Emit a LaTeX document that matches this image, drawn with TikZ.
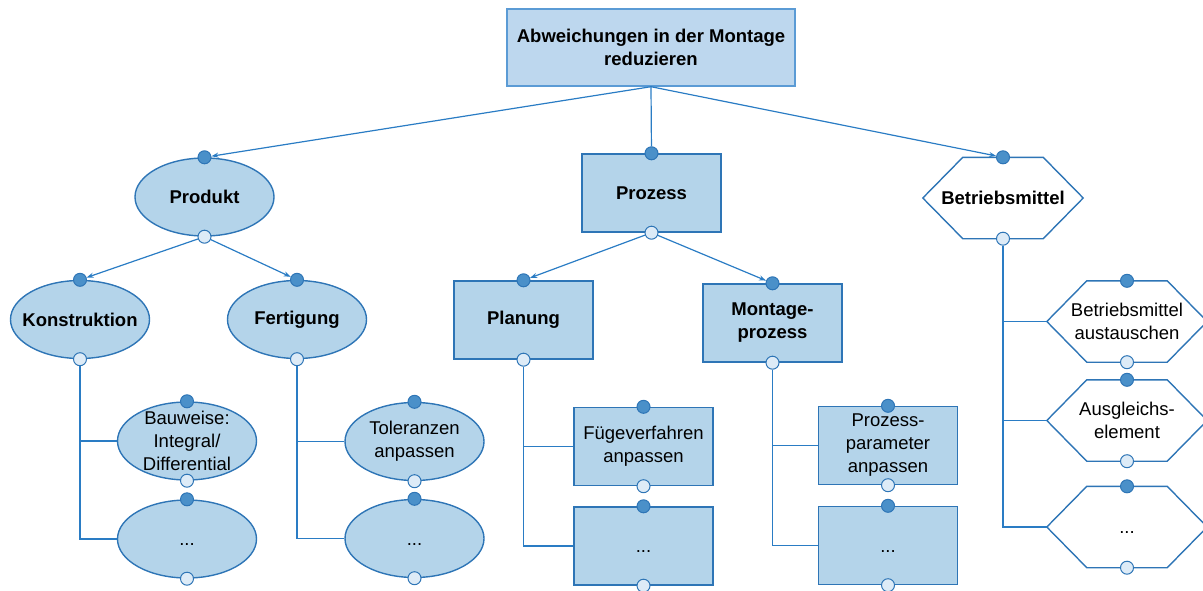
\documentclass[tikz,border=0pt]{standalone}
\usepackage{fontspec}
\setmainfont{Liberation Sans}
\usetikzlibrary{shapes.geometric,arrows.meta,calc}
\definecolor{boxfill}{HTML}{B4D4EA}
\definecolor{topfill}{HTML}{BDD7EE}
\definecolor{topline}{HTML}{5B9BD5}
\definecolor{edge}{HTML}{2E75B6}
\definecolor{dotdark}{HTML}{4A90C9}
\definecolor{dotlight}{HTML}{DDEBF7}
\definecolor{wire}{HTML}{2A7CC4}

% flat-topped hexagon around a rectangular frame node
\newcommand\hexoutline[1]{%
  \draw[shapeline, fill=white] (#1.west) -- ($(#1.north west)+(40,0)$)
    -- ($(#1.north east)+(-40,0)$) -- (#1.east)
    -- ($(#1.south east)+(-40,0)$) -- ($(#1.south west)+(40,0)$) -- cycle;}

\begin{document}
\begin{tikzpicture}[x=1pt,y=-1pt,
  every node/.style={font=\fontsize{18.5}{23}\selectfont},
  shapeline/.style={draw=edge, line width=1.4pt},
  rectbox/.style={shapeline, fill=boxfill, rectangle, minimum width=139pt, minimum height=78pt, inner sep=0pt, align=center},
  ellbox/.style={shapeline, fill=boxfill, ellipse, minimum width=139pt, minimum height=78pt, inner sep=0pt},
  hexframe/.style={rectangle, minimum width=160pt, minimum height=81pt, inner sep=0pt},
  lbl/.style={align=center, inner sep=0pt},
  more/.style={lbl, yshift=-6pt},
  bold/.style={font=\fontsize{18.5}{23}\selectfont\bfseries},
  indot/.style={circle, draw=edge, fill=dotdark, line width=1pt, minimum size=13pt, inner sep=0pt},
  outdot/.style={circle, draw=edge, fill=dotlight, line width=1pt, minimum size=13pt, inner sep=0pt},
  link/.style={draw=wire, line width=1.2pt, -{Stealth[length=7pt,width=5pt]}},
  plainlink/.style={draw=wire, line width=1.2pt},
  branch/.style={draw=wire, line width=1.2pt},
]
\useasboundingbox (0,0) rectangle (1203,590);

% ---- root ----
\node[rectangle, draw=topline, line width=1.4pt, fill=topfill, minimum width=288pt,
      minimum height=77pt, inner sep=0pt, align=center, bold] (top) at (651,47.5)
      {Abweichungen in der Montage\\reduzieren};

% ---- level 1 ----
\node[ellbox] (prod) at (204.5,197) {};
\node[lbl, bold] (prodt) at (prod) {Produkt};
\node[rectbox, bold] (proz) at (651.5,193) {Prozess};
\node[hexframe] (betr) at (1003,198) {};
\hexoutline{betr}
\node[lbl, bold] (betrt) at (betr) {Betriebsmittel};

% ---- level 2 ----
\node[ellbox] (kon) at (80,319.5) {};
\node[lbl, bold] (kont) at (kon) {Konstruktion};
\node[ellbox] (fert) at (297,319.5) {};
\node[lbl, bold] (fertt) at (fert) {Fertigung};
\node[rectbox, bold] (plan) at (523.5,320) {Planung};
\node[rectbox, bold] (mont) at (772.5,323) {Montage-\\prozess};

% ---- level 3 ----
\node[ellbox] (bw) at (187,441) {};
\node[lbl] (bwt) at (bw) {Bauweise:\\Integral/\\Differential};
\node[ellbox] (kd) at (187,539) {};
\node[more] (kdt) at (kd) {...};
\node[ellbox] (tol) at (414.5,441.5) {};
\node[lbl] (tolt) at (tol) {Toleranzen\\anpassen};
\node[ellbox] (fd) at (414.5,538.5) {};
\node[more] (fdt) at (fd) {...};
\node[rectbox] (fuege) at (643.5,446.5) {F\"ugeverfahren\\anpassen};
\node[rectbox] (pd) at (643.5,546) {};
\node[more] (pdt) at (pd) {...};
\node[rectbox] (ppar) at (888,445.5) {Prozess-\\parameter\\anpassen};
\node[rectbox] (md) at (888,545.5) {};
\node[more] (mdt) at (md) {...};
\node[hexframe] (h1) at (1127,321.5) {};
\hexoutline{h1}
\node[lbl] (h1t) at (h1) {Betriebsmittel\\austauschen};
\node[hexframe] (h2) at (1127,420.5) {};
\hexoutline{h2}
\node[lbl] (h2t) at (h2) {Ausgleichs-\\element};
\node[hexframe] (h3) at (1127,527) {};
\hexoutline{h3}
\node[more] (h3t) at (h3) {...};

% ---- connection dots ----
\foreach \n in {prod,proz,betr,kon,fert,plan,mont,bw,kd,tol,fd,fuege,pd,ppar,md,h1,h2,h3}{
  \node[indot] (\n-in) at (\n.north) {};
  \node[outdot] (\n-out) at (\n.south) {};
}

% ---- connectors ----
\draw[link] (top.south) -- (prod-in);
\draw[plainlink] (top.south) -- (proz-in);
\draw[link] (top.south) -- (betr-in);
\draw[link] (prod-out) -- (kon-in);
\draw[link] (prod-out) -- (fert-in);
\draw[link] (proz-out) -- (plan-in);
\draw[link] (proz-out) -- (mont-in);

% elbow branches: one trunk per parent, stubs to the upper children
\draw[branch] (kon-out) |- (kd.west);
\draw[branch] (kon-out |- bw.west) -- (bw.west);
\draw[branch] (fert-out) |- (fd.west);
\draw[branch] (fert-out |- tol.west) -- (tol.west);
\draw[branch] (plan-out) |- (pd.west);
\draw[branch] (plan-out |- fuege.west) -- (fuege.west);
\draw[branch] (mont-out) |- (md.west);
\draw[branch] (mont-out |- ppar.west) -- (ppar.west);
\draw[branch] (betr-out) |- (h3.west);
\draw[branch] (betr-out |- h1.west) -- (h1.west);
\draw[branch] (betr-out |- h2.west) -- (h2.west);
\end{tikzpicture}
\end{document}
